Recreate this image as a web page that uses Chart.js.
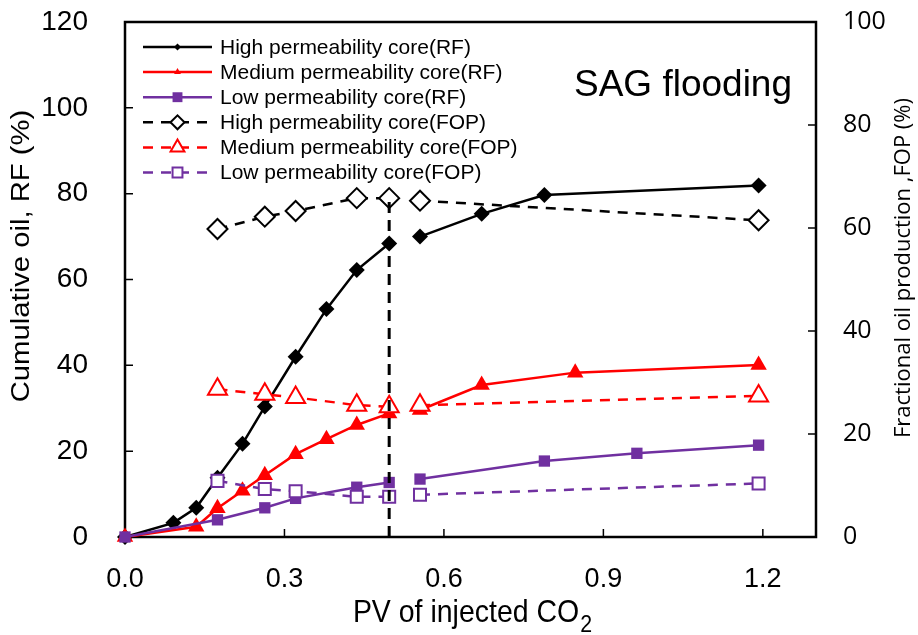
<!DOCTYPE html>
<html>
<head>
<meta charset="utf-8">
<script src="https://cdn.jsdelivr.net/npm/chart.js@4.4.1/dist/chart.umd.min.js"></script>
<style>
  html, body { margin: 0; padding: 0; background: #fff; }
  #zone { width: 918px; height: 635px; }
</style>
</head>
<body>
<div id="zone"><canvas id="graphique"></canvas></div>
<script>
// PV de CO2 injecté pour chaque série
const pvHauteRF = [0, 0.091, 0.134, 0.174, 0.221, 0.263, 0.321, 0.379, 0.436, 0.497, 0.555, 0.671, 0.789, 1.192];
const pvMoyenneRF = [0, 0.134, 0.174, 0.221, 0.263, 0.321, 0.379, 0.436, 0.497, 0.555, 0.671, 0.847, 1.192];
const pvBasseRF = [0, 0.174, 0.263, 0.321, 0.436, 0.497, 0.555, 0.789, 0.963, 1.192];
const pvFOP = [0.174, 0.263, 0.321, 0.436, 0.497, 0.555, 1.192];

// Récupération cumulée (RF, %)
const rfHaute = [0, 3.3, 6.8, 13.8, 21.7, 30.4, 42.0, 53.1, 62.2, 68.4, 70.0, 75.3, 79.7, 81.9];
const rfMoyenne = [0, 2.4, 6.7, 10.8, 14.4, 19.3, 22.8, 26.1, 28.8, 29.6, 35.4, 38.3, 40.1];
const rfBasse = [0, 4.0, 6.8, 9.0, 11.6, 12.7, 13.5, 17.7, 19.5, 21.4];

// Production fractionnelle d'huile (FOP, %)
const fopHaute = [59.8, 62.2, 63.3, 65.8, 65.8, 65.3, 61.5];
const fopMoyenne = [28.7, 27.7, 27.1, 25.6, 25.3, 25.6, 27.4];
const fopBasse = [10.9, 9.3, 8.9, 7.8, 7.8, 8.2, 10.4];

const libelles = [
  'High permeability core(RF)',
  'Medium permeability core(RF)',
  'Low permeability core(RF)',
  'High permeability core(FOP)',
  'Medium permeability core(FOP)',
  'Low permeability core(FOP)',
];

// passage au SAG : la courbe est interrompue ici
const PV_COUPURE = 0.5;
const pvCoupure = [0.497, 0.497];
const fopCoupure = [0, 65.8];

const couleurs = {
  noir: '#000',
  rouge: '#ff0000',
  violet: '#7030a0',
  blanc: '#fff',
};

const police = '"Liberation Sans", Arial, sans-serif';

const points = (xs, ys) => {
  const res = [];
  xs.forEach((x, i) => {
    if (i > 0 && xs[i - 1] < PV_COUPURE && x >= PV_COUPURE) {
      res.push({ x: PV_COUPURE, y: null });
    }
    res.push({ x, y: ys[i] });
  });
  return res;
};

// plus l'ordre est petit, plus la série est dessinée au-dessus
const serie = (libelle, xs, ys, couleur, style, plein, rayon, rayonLegende, axe, ordre) => ({
  label: libelle,
  data: points(xs, ys),
  yAxisID: axe,
  order: ordre,
  clip: false,
  borderColor: couleur,
  borderWidth: 2.5,
  borderDash: axe === 'y1' ? [10, 8] : [],
  pointStyle: style,
  pointRadius: rayon,
  pointBackgroundColor: plein ? couleur : couleurs.blanc,
  pointBorderColor: couleur,
  pointBorderWidth: plein ? 0 : 2,
  tension: 0,
  spanGaps: false,
  legende: { rayon: rayonLegende },
});

const datasets = [
  serie(libelles[0], pvHauteRF, rfHaute, couleurs.noir, 'rectRot', true, 8, 3.5, 'y', 6),
  serie(libelles[1], pvMoyenneRF, rfMoyenne, couleurs.rouge, 'triangle', true, 9.5, 4, 'y', 5),
  serie(libelles[2], pvBasseRF, rfBasse, couleurs.violet, 'rect', true, 8, 7, 'y', 4),
  serie(libelles[3], pvFOP, fopHaute, couleurs.noir, 'rectRot', false, 10, 7, 'y1', 3),
  serie(libelles[4], pvFOP, fopMoyenne, couleurs.rouge, 'triangle', false, 11, 8, 'y1', 2),
  serie(libelles[5], pvFOP, fopBasse, couleurs.violet, 'rect', false, 8.5, 7, 'y1', 1),
  {
    label: 'coupure',
    data: pvCoupure.map((x, i) => ({ x, y: fopCoupure[i] })),
    yAxisID: 'y1',
    borderColor: couleurs.noir,
    borderWidth: 3,
    borderDash: [11, 7],
    pointRadius: 0,
    order: 0,
  },
];

// texte étiré ou resserré dans le sens de lecture
const texteEtire = (ctx, texte, x, y, echelle) => {
  ctx.save();
  ctx.translate(x, y);
  ctx.scale(echelle, 1);
  ctx.fillText(texte, 0, 0);
  ctx.restore();
};

// cadre, graduations intérieures, titres d'axes, légende et annotation
const habillage = {
  id: 'habillage',
  beforeDatasetsDraw(chart) {
    const { ctx, chartArea: a, scales } = chart;
    ctx.save();
    ctx.strokeStyle = couleurs.noir;
    ctx.lineWidth = 2.5;
    ctx.strokeRect(a.left, a.top, a.right - a.left, a.bottom - a.top);
    ctx.lineWidth = 1.5;
    ctx.beginPath();
    scales.y.ticks.forEach((t) => {
      const py = scales.y.getPixelForValue(t.value);
      ctx.moveTo(a.left, py); ctx.lineTo(a.left + 8, py);
    });
    scales.y1.ticks.forEach((t) => {
      const py = scales.y1.getPixelForValue(t.value);
      ctx.moveTo(a.right, py); ctx.lineTo(a.right - 8, py);
    });
    scales.x.ticks.forEach((t) => {
      const px = scales.x.getPixelForValue(t.value);
      ctx.moveTo(px, a.bottom); ctx.lineTo(px, a.bottom - 8);
    });
    ctx.stroke();
    ctx.restore();
  },
  afterDraw(chart) {
    const { ctx } = chart;
    ctx.save();
    ctx.fillStyle = couleurs.noir;

    // titre de l'axe gauche
    ctx.save();
    ctx.translate(22, 256);
    ctx.rotate(-Math.PI / 2);
    ctx.font = '25px ' + police;
    ctx.textAlign = 'center';
    ctx.textBaseline = 'middle';
    texteEtire(ctx, 'Cumulative oil, RF (%)', 0, 0, 1.17);
    ctx.restore();

    // titre de l'axe droit
    ctx.save();
    ctx.translate(904, 268);
    ctx.rotate(-Math.PI / 2);
    ctx.font = '22px "Open Sans", sans-serif';
    ctx.textAlign = 'center';
    ctx.textBaseline = 'middle';
    ctx.fillText('Fractional oil production ,FOP (%)', 0, 0);
    ctx.restore();

    // titre de l'axe des x, avec indice
    const resserre = 0.89;
    ctx.textBaseline = 'alphabetic';
    ctx.textAlign = 'left';
    ctx.font = '32px ' + police;
    const principal = 'PV of injected CO';
    const largeur = ctx.measureText(principal).width * resserre;
    ctx.font = '24px ' + police;
    const largeurIndice = ctx.measureText('2').width * resserre;
    const x0 = 472 - (largeur + largeurIndice) / 2;
    ctx.font = '32px ' + police;
    texteEtire(ctx, principal, x0, 622, resserre);
    ctx.font = '24px ' + police;
    texteEtire(ctx, '2', x0 + largeur + 1, 632, resserre);

    // annotation
    ctx.font = '37px ' + police;
    ctx.fillText('SAG flooding', 574, 96);

    // légende
    chart.data.datasets.forEach((ds, i) => {
      if (!ds.legende) return;
      const y = 47 + i * 25.1;
      ctx.save();
      ctx.strokeStyle = ds.borderColor;
      ctx.lineWidth = 2.5;
      ctx.setLineDash(ds.borderDash);
      ctx.beginPath();
      ctx.moveTo(143, y);
      ctx.lineTo(212, y);
      ctx.stroke();
      ctx.setLineDash([]);
      ctx.fillStyle = ds.pointBackgroundColor;
      ctx.strokeStyle = ds.pointBorderColor;
      ctx.lineWidth = ds.pointBorderWidth;
      Chart.helpers.drawPoint(ctx, {
        pointStyle: ds.pointStyle,
        radius: ds.legende.rayon,
        borderWidth: ds.pointBorderWidth,
        rotation: 0,
      }, 177.5, y);
      ctx.restore();
      ctx.font = '21px ' + police;
      ctx.textAlign = 'left';
      ctx.textBaseline = 'middle';
      ctx.fillText(ds.label, 220, y + 1);
    });
    ctx.restore();
  },
};

// pas de marge automatique : le cadre est placé par layout.padding et afterFit
const sansMarge = (s) => {
  s.paddingTop = 0;
  s.paddingBottom = 0;
  s.paddingLeft = 0;
  s.paddingRight = 0;
};

const axeCommun = {
  grid: { drawOnChartArea: false, drawTicks: false },
  border: { display: false },
};

/* eslint-disable no-new */
new Chart(document.getElementById('graphique'), {
  type: 'line',
  data: { datasets },
  plugins: [habillage],
  options: {
    responsive: true,
    maintainAspectRatio: false,
    animation: false,
    layout: { padding: { top: 22, left: 0, right: 0, bottom: 0 } },
    plugins: {
      legend: { display: false },
      tooltip: { enabled: false },
    },
    scales: {
      x: {
        ...axeCommun,
        type: 'linear',
        min: 0,
        max: 1.3,
        afterFit: (s) => { sansMarge(s); s.height = 98; },
        ticks: {
          stepSize: 0.3,
          includeBounds: false,
          padding: 26,
          color: couleurs.noir,
          font: { family: police, size: 27 },
          callback: (v) => v.toFixed(1),
        },
      },
      y: {
        ...axeCommun,
        position: 'left',
        min: 0,
        max: 120,
        afterFit: (s) => { sansMarge(s); s.width = 125; },
        ticks: {
          stepSize: 20,
          padding: 37,
          color: couleurs.noir,
          font: { family: police, size: 28 },
        },
      },
      y1: {
        ...axeCommun,
        position: 'right',
        min: 0,
        max: 100,
        afterFit: (s) => { sansMarge(s); s.width = 102; },
        ticks: {
          stepSize: 20,
          padding: 27,
          color: couleurs.noir,
          font: { family: '"Open Sans", sans-serif', size: 25 },
        },
      },
    },
  },
});
/* eslint-enable no-new */
</script>
</body>
</html>
